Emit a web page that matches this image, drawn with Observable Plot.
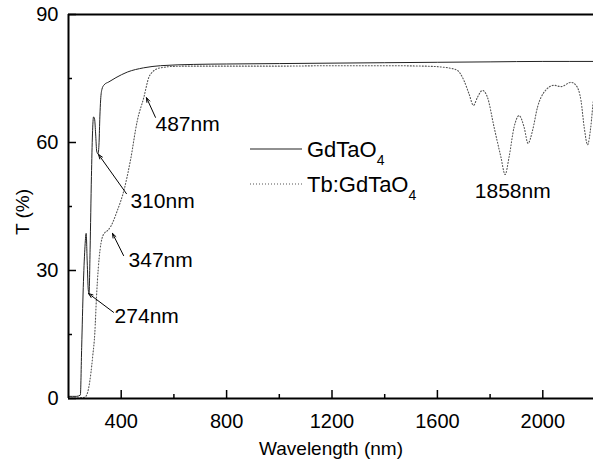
<!DOCTYPE html>
<html><head><meta charset="utf-8">
<script src="https://cdn.jsdelivr.net/npm/d3@7"></script>
<script src="https://cdn.jsdelivr.net/npm/@observablehq/plot@0.6"></script>
<style>body{margin:0;background:#fff} svg{display:block}</style>
</head><body><div id="chart"></div>
<script>
// GdTaO4 (solid)
const wlHost = [200, 230, 245, 250, 256, 262, 267, 271, 275, 278, 282, 287, 291, 295, 299, 303, 307, 312, 316, 319, 322, 327, 335, 353, 380, 423, 485, 549, 675, 800, 1000, 1200, 1400, 1600, 1800, 2000, 2200];
const tHost  = [0.5, 0.5, 0.8, 12, 26, 35, 38.7, 32, 25.5, 24.6, 35, 52, 62, 66, 65.5, 62, 58, 57.3, 60, 66, 70, 72.5, 73.5, 74.2, 75.2, 76.5, 77.5, 78, 78.3, 78.4, 78.5, 78.6, 78.7, 78.8, 78.9, 79, 79];
// Tb:GdTaO4 (dotted)
const wlDoped = [200, 262, 275, 285, 292, 300, 306, 313, 320, 327, 337, 347, 360, 385, 410, 435, 461, 486, 505, 520, 537, 560, 587, 650, 800, 1000, 1200, 1400, 1550, 1613, 1650, 1676, 1701, 1720, 1737, 1752, 1771, 1790, 1815, 1841, 1857, 1872, 1891, 1910, 1929, 1944, 1961, 1980, 2005, 2043, 2069, 2107, 2126, 2145, 2157, 2170, 2182, 2192, 2200];
const tDoped  = [0, 0.3, 2, 6, 10, 15.5, 23.5, 30.5, 35, 37.5, 38.8, 39.3, 40.3, 44, 48.7, 55.8, 65.1, 70.6, 75.3, 76.6, 77.3, 77.6, 77.8, 77.9, 77.9, 77.9, 78, 78, 77.9, 77.7, 77.4, 76.9, 74.5, 71.4, 68.7, 70.6, 72.2, 70.6, 63.6, 56.6, 52.5, 56.6, 63.6, 66.3, 63.6, 59.8, 62.8, 68.3, 71.8, 73.4, 73.1, 74.1, 73.4, 69.8, 63.6, 59.5, 63.6, 69.8, 72];

const xMajor = [400, 800, 1200, 1600, 2000];
const xMinor = [600, 1000, 1400, 1800];
const yMajor = [0, 30, 60, 90];
const yMinor = [15, 45, 75];

// annotation labels: text position, arrow tail and arrow tip (data units)
const annLabels = ["487nm", "310nm", "347nm", "274nm", "1858nm"];
const annTextX  = [530, 435, 428, 375, 1742];
const annTextY  = [64.2, 46.2, 32.3, 19.2, 48.5];
const annTailX  = [530, 420, 409, 371, null];
const annTailY  = [65.9, 48.0, 33.5, 20.2, null];
const annTipX   = [496, 314, 367, 276, null];
const annTipY   = [70.5, 57.2, 38.7, 24.6, null];

const legendNames = ["GdTaO4", "Tb:GdTaO4"];
const xTitle = "Wavelength (nm)";
const yTitle = "T (%)";

const host = wlHost.map((w, i) => ({w, t: tHost[i]}));
const doped = wlDoped.map((w, i) => ({w, t: tDoped[i]}));
const ann = annLabels.map((label, i) => ({label, x: annTextX[i], y: annTextY[i], x1: annTailX[i], y1: annTailY[i], x2: annTipX[i], y2: annTipY[i]}));
const arrows = ann.filter(d => d.x1 != null);

const W = 593, H = 464, ML = 68, MT = 14, MB = 66, MR = 0;
const plotW = W - ML - MR, plotH = H - MT - MB;
const FONT = "Liberation Sans, Arial, Helvetica, sans-serif";

const chart = Plot.plot({
  width: W, height: H,
  marginLeft: ML, marginTop: MT, marginBottom: MB, marginRight: MR,
  style: {fontFamily: FONT, background: "#fff", color: "#000", overflow: "visible"},
  x: {domain: [200, 2200], range: [ML, 595]},
  y: {domain: [0, 90]},
  marks: [
    Plot.axisX({ticks: xMajor, tickSize: 0, tickPadding: 15, fontSize: 20, label: null, tickFormat: d => String(d)}),
    Plot.axisY({ticks: yMajor, tickSize: 0, tickPadding: 10, fontSize: 20, label: null}),
    Plot.line(host, {x: "w", y: "t", stroke: "#222", strokeWidth: 1, curve: "monotone-x"}),
    Plot.line(doped, {x: "w", y: "t", stroke: "#555", strokeWidth: 1.1, strokeDasharray: "1,2", curve: "monotone-x"}),
    // ticks (inward)
    Plot.ruleX(xMajor, {x: d => d, insetTop: plotH - 8, stroke: "#000", strokeWidth: 1.5}),
    Plot.ruleX(xMinor, {x: d => d, insetTop: plotH - 4, stroke: "#000", strokeWidth: 1.5}),
    Plot.ruleY(yMajor, {y: d => d, insetRight: plotW - 8, stroke: "#000", strokeWidth: 1.5}),
    Plot.ruleY(yMinor, {y: d => d, insetRight: plotW - 4, stroke: "#000", strokeWidth: 1.5}),
    // frame lines
    Plot.ruleX([200], {stroke: "#000", strokeWidth: 2}),
    Plot.ruleY([0, 90], {stroke: "#000", strokeWidth: 2}),
    // annotations
    Plot.arrow(arrows, {x1: "x1", y1: "y1", x2: "x2", y2: "y2", stroke: "#000", strokeWidth: 1, headLength: 7, headAngle: 40}),
    Plot.text(ann, {x: "x", y: "y", text: "label", textAnchor: "start", fontSize: 21, fill: "#000"}),
    // x axis title
    Plot.text([xTitle], {frameAnchor: "bottom", dy: 56, fontSize: 19, fill: "#000"})
  ]
});

const svg = d3.select(chart);
// y axis title
svg.append("text").attr("transform", "translate(22,212) rotate(-90)")
  .attr("text-anchor", "middle").attr("dy", "0.35em")
  .attr("font-family", FONT).attr("font-size", 19).attr("fill", "#000").text(yTitle);

// legend
const lg = svg.append("g").attr("font-family", FONT).attr("font-size", 22).attr("text-anchor", "start");
const legendStyles = [{dash: null, stroke: "#222", y: 149}, {dash: "1,2", stroke: "#555", y: 184}];
legendNames.forEach((name, i) => {
  const s = legendStyles[i];
  lg.append("line").attr("x1", 250).attr("x2", 302).attr("y1", s.y).attr("y2", s.y)
    .attr("stroke", s.stroke).attr("stroke-width", 1.1).attr("stroke-dasharray", s.dash);
  const t = lg.append("text").attr("x", 307).attr("y", s.y).attr("dy", "0.35em").attr("fill", "#000");
  t.append("tspan").text(name.slice(0, -1));
  t.append("tspan").attr("font-size", 14).attr("dy", "0.6em").text(name.slice(-1));
});

document.getElementById("chart").appendChild(chart);
</script>
</body></html>
